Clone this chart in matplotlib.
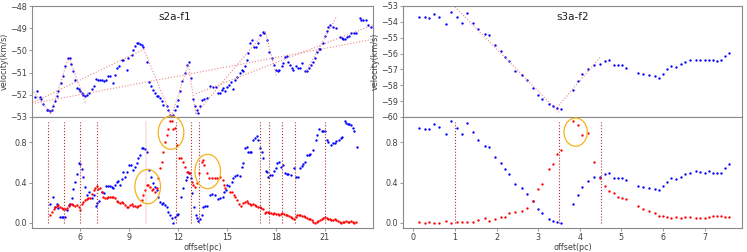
import numpy as np
import matplotlib
matplotlib.use("Agg")
import matplotlib.pyplot as plt
from matplotlib.patches import Ellipse

# ---------------- data: left panel (s2a-f1) ----------------
tl_pts = [(3.24,-52.12),(3.35,-51.85),(3.51,-52.12),(3.61,-52.2),(3.71,-52.4),(3.96,-52.67),(4.06,-52.7),
 (4.16,-52.72),(4.27,-52.7),(4.33,-52.52),(4.43,-52.3),(4.57,-52.07),(4.67,-51.85),(4.84,-51.47),(4.98,-51.14),
 (5.08,-50.72),(5.24,-50.35),(5.35,-50.35),(5.43,-50.6),(5.55,-50.95),(5.69,-51.32),(5.80,-51.7),(5.90,-51.74),
 (6.00,-51.85),(6.10,-51.92),(6.20,-52.0),(6.31,-52.07),(6.45,-52.0),(6.57,-51.9),(6.71,-51.74),(6.86,-51.6),
 (6.98,-51.3),(7.12,-51.32),(7.22,-51.33),(7.31,-51.35),(7.47,-51.4),(7.60,-51.32),(7.73,-51.14),(7.84,-51.14),
 (8.00,-51.47),(8.14,-51.1),(8.29,-50.8),(8.41,-50.72),(8.55,-50.43),(8.65,-50.43),(8.86,-50.88),(8.96,-50.35),
 (9.16,-50.2),(9.27,-50.0),(9.37,-49.8),(9.47,-49.68),(9.57,-49.68),(9.67,-49.72),(9.78,-49.74),(9.88,-49.83),
 (10.08,-50.5),(10.24,-51.44),(10.35,-51.62),(10.49,-51.77),(10.59,-51.92),(10.69,-52.07),(10.80,-52.07),
 (10.90,-52.15),(11.00,-52.3),(11.10,-52.45),(11.30,-52.52),(11.41,-52.67),(11.51,-52.9),(11.61,-52.95),
 (11.71,-52.9),(11.82,-52.67),(11.92,-52.49),(12.02,-52.22),(12.12,-51.85),(12.27,-51.4),(12.43,-51.02),
 (12.57,-50.65),(12.67,-50.5),(12.78,-51.25),(12.94,-52.19),(13.04,-52.49),(13.14,-52.67),(13.24,-52.82),
 (13.35,-52.52),(13.45,-52.22),(13.59,-52.19),(13.76,-52.15),(13.96,-51.62),(14.16,-51.65),(14.33,-51.65),
 (14.47,-51.92),(14.57,-51.92),(14.67,-51.8),(14.78,-51.7),(14.88,-51.85),(14.98,-51.65),(15.14,-51.55),
 (15.24,-51.44),(15.35,-51.74),(15.49,-51.32),(15.63,-51.2),(15.80,-51.02),(15.90,-50.87),(16.00,-50.95),
 (16.10,-50.72),(16.20,-50.43),(16.31,-50.13),(16.41,-49.68),(16.51,-49.53),(16.65,-49.83),(16.78,-49.83),
 (16.92,-49.68),(17.02,-49.3),(17.18,-49.15),(17.29,-49.23),(17.43,-49.53),(17.59,-50.05),(17.73,-50.35),
 (17.88,-50.65),(18.00,-50.87),(18.10,-50.92),(18.20,-50.88),(18.35,-50.72),(18.45,-50.57),(18.55,-50.28),
 (18.65,-50.25),(18.76,-50.5),(18.86,-50.65),(18.96,-50.8),(19.06,-50.87),(19.22,-50.72),(19.37,-50.8),
 (19.47,-50.8),(19.57,-50.57),(19.78,-50.95),(19.88,-50.95),(20.04,-50.8),(20.18,-50.65),(20.29,-50.5),
 (20.39,-50.35),(20.49,-50.05),(20.65,-49.95),(20.73,-49.95),(20.86,-49.65),(21.00,-49.35),(21.10,-49.12),
 (21.20,-48.93),(21.31,-48.85),(21.51,-48.93),(21.71,-49.0),(21.92,-49.38),(22.02,-49.45),(22.12,-49.5),
 (22.22,-49.5),(22.33,-49.41),(22.49,-49.35),(22.63,-49.23),(22.76,-49.23),(22.90,-49.23),(23.14,-48.55),
 (23.24,-48.63),(23.35,-48.65),(23.50,-48.65),(23.65,-48.85),(23.80,-48.93)]

# linear fits drawn in the top-left panel: (x0, v0, x1, v1)
tl_fits = [(3.05,-51.77,4.2,-52.85),(4.2,-52.85,5.3,-50.3),(5.3,-50.3,6.35,-52.4),
 (3.05,-52.37,9.9,-49.95),(3.05,-52.4,23.95,-49.5),(9.9,-49.95,11.6,-52.97),
 (11.6,-52.97,12.63,-50.6),(12.65,-50.7,13.1,-52.9),(13.1,-52.85,17.35,-49.15),
 (13.1,-51.95,23.95,-48.85),(17.35,-49.15,18.05,-51.2),(19.8,-51.0,21.7,-48.5)]

bl_blue = [(4.16,0.183),(4.31,0.259),(4.43,0.159),(4.57,0.183),(4.67,0.15),(4.78,0.06),(4.88,0.055),(4.98,0.055),
 (5.08,0.06),(5.18,0.126),(5.29,0.176),(5.39,0.183),(5.49,0.243),(5.59,0.336),(5.69,0.409),(5.80,0.49),(5.90,0.59),
 (6.00,0.585),(6.10,0.535),(6.20,0.458),(6.31,0.359),(6.45,0.276),(6.57,0.302),(6.71,0.243),(6.82,0.276),(6.98,0.169),
 (7.06,0.193),(7.18,0.216),(7.33,0.309),(7.47,0.292),(7.60,0.369),(7.73,0.365),(7.84,0.365),(7.94,0.36),(8.04,0.342),
 (8.14,0.375),(8.24,0.409),(8.35,0.415),(8.45,0.375),(8.55,0.435),(8.65,0.502),(8.76,0.458),(8.86,0.508),(9.02,0.575),
 (9.10,0.575),(9.22,0.525),(9.37,0.558),(9.47,0.591),(9.57,0.641),(9.67,0.674),(9.78,0.741),(9.88,0.74),(9.98,0.735),
 (10.08,0.708),(10.22,0.525),(10.33,0.458),(10.45,0.392),(10.59,0.359),(10.69,0.326),(10.80,0.259),(10.90,0.209),
 (11.00,0.183),(11.10,0.193),(11.20,0.176),(11.31,0.159),(11.41,0.11),(11.51,0.076),(11.61,0.05),(11.71,0.003),
 (11.82,0.06),(11.92,0.076),(12.02,0.093),(12.18,0.259),(12.33,0.349),(12.47,0.425),(12.57,0.458),(12.67,0.492),
 (12.78,0.442),(12.88,0.30),(12.98,0.16),(13.08,0.08),(13.18,0.05),(13.25,0.02),(13.35,0.043),(13.45,0.076),
 (13.55,0.16),(13.65,0.17),(13.75,0.17),(13.96,0.276),(14.10,0.285),(14.25,0.28),(14.45,0.24),(14.60,0.248),
 (14.73,0.26),(14.80,0.302),(14.96,0.326),(15.02,0.375),(15.14,0.369),(15.29,0.409),(15.39,0.442),(15.49,0.468),
 (15.63,0.475),(15.80,0.468),(15.90,0.558),(15.96,0.591),(16.10,0.741),(16.20,0.757),(16.30,0.708),(16.40,0.708),
 (16.50,0.708),(16.61,0.824),(16.71,0.84),(16.82,0.857),(16.92,0.824),(17.02,0.741),(17.12,0.701),(17.22,0.648),
 (17.37,0.515),(17.43,0.502),(17.53,0.458),(17.63,0.475),(17.73,0.475),(17.88,0.515),(18.00,0.541),(18.08,0.591),
 (18.18,0.601),(18.29,0.558),(18.41,0.575),(18.55,0.492),(18.65,0.482),(18.76,0.482),(18.90,0.475),(19.10,0.548),
 (19.22,0.458),(19.33,0.452),(19.47,0.541),(19.59,0.568),(19.67,0.581),(19.80,0.608),(19.90,0.674),(20.00,0.674),
 (20.10,0.681),(20.29,0.724),(20.45,0.824),(20.53,0.874),(20.65,0.934),(20.80,0.914),(20.90,0.907),(21.00,0.907),
 (21.10,0.824),(21.20,0.807),(21.35,0.774),(21.47,0.79),(21.60,0.79),(21.70,0.814),(21.88,0.824),(21.96,0.84),
 (22.08,0.847),(22.22,1.007),(22.30,0.99),(22.40,0.985),(22.50,0.98),(22.61,0.967),(22.71,0.94),(22.80,0.907),
 (22.96,0.757)]

bl_red = [(4.16,0.076),(4.27,0.11),(4.37,0.143),(4.47,0.159),(4.57,0.169),(4.67,0.176),(4.78,0.159),(4.88,0.15),
 (4.98,0.143),(5.08,0.136),(5.18,0.15),(5.29,0.169),(5.39,0.183),(5.49,0.183),(5.59,0.176),(5.69,0.169),(5.80,0.176),
 (5.90,0.159),(6.00,0.126),(6.10,0.183),(6.20,0.209),(6.31,0.226),(6.41,0.236),(6.51,0.243),(6.61,0.249),(6.71,0.282),
 (6.82,0.326),(6.92,0.349),(7.02,0.369),(7.12,0.336),(7.22,0.349),(7.33,0.302),(7.43,0.259),(7.53,0.243),(7.63,0.249),
 (7.73,0.259),(7.84,0.259),(7.94,0.259),(8.04,0.259),(8.14,0.243),(8.24,0.216),(8.35,0.203),(8.45,0.193),(8.55,0.203),
 (8.65,0.193),(8.76,0.176),(8.86,0.159),(8.96,0.159),(9.06,0.176),(9.16,0.183),(9.27,0.169),(9.37,0.169),(9.47,0.159),
 (9.57,0.169),(9.67,0.176),(9.78,0.226),(9.88,0.276),(9.98,0.326),(10.08,0.375),(10.18,0.375),(10.29,0.359),
 (10.39,0.326),(10.49,0.336),(10.59,0.302),(10.69,0.349),(10.80,0.442),(10.90,0.542),(11.00,0.608),(11.10,0.708),
 (11.20,0.807),(11.31,0.874),(11.41,0.934),(11.51,1.007),(11.61,1.007),(11.71,0.934),(11.82,0.94),(11.92,0.774),
 (12.06,0.641),(12.18,0.641),(12.33,0.608),(12.43,0.558),(12.53,0.508),(12.63,0.502),(12.73,0.492),(12.84,0.409),
 (12.94,0.375),(13.04,0.359),(13.14,0.392),(13.30,0.50),(13.45,0.60),(13.55,0.624),(13.59,0.575),(13.76,0.492),
 (13.92,0.442),(14.10,0.445),(14.25,0.445),(14.40,0.445),(14.57,0.455),(14.73,0.425),(14.82,0.375),(14.90,0.342),
 (15.16,0.302),(15.30,0.302),(15.40,0.276),(15.50,0.259),(15.63,0.226),(15.76,0.183),(15.84,0.169),(16.00,0.193),
 (16.10,0.203),(16.20,0.216),(16.30,0.193),(16.40,0.183),(16.50,0.176),(16.60,0.183),(16.70,0.176),(16.80,0.169),
 (16.90,0.163),(17.00,0.16),(17.10,0.15),(17.20,0.136),(17.30,0.103),(17.40,0.11),(17.50,0.107),(17.60,0.103),
 (17.70,0.097),(17.80,0.093),(17.90,0.1),(18.00,0.093),(18.10,0.093),(18.20,0.083),(18.30,0.09),(18.40,0.1),
 (18.50,0.093),(18.60,0.083),(18.70,0.077),(18.80,0.07),(18.90,0.06),(19.00,0.05),(19.10,0.043),(19.20,0.06),
 (19.30,0.076),(19.40,0.076),(19.50,0.076),(19.60,0.07),(19.70,0.067),(19.80,0.06),(19.90,0.05),(20.00,0.043),
 (20.10,0.037),(20.20,0.027),(20.30,0.01),(20.40,0.003),(20.50,0.01),(20.60,0.017),(20.70,0.027),(20.80,0.037),
 (20.90,0.05),(21.00,0.06),(21.10,0.05),(21.20,0.043),(21.30,0.037),(21.40,0.027),(21.50,0.027),(21.60,0.037),
 (21.70,0.027),(21.80,0.017),(21.90,0.01),(22.00,0.003),(22.10,0.01),(22.20,0.01),(22.30,0.017),(22.40,0.01),
 (22.50,0.01),(22.60,0.017),(22.70,0.01),(22.80,0.003),(22.90,0.01)]

left_vlines = [4.0, 5.04, 6.02, 7.06, 11.86, 12.82, 13.27, 17.02, 17.59, 18.35, 19.18, 21.0]
left_faint_vline = 10.02
left_ellipses = [(11.57, 0.895, 1.57, 0.33), (10.14, 0.36, 1.57, 0.34), (13.82, 0.51, 1.57, 0.34)]
left_top_ticks = [4.16, 6.92, 9.67, 12.43, 15.18, 17.94, 20.7, 23.45]

# ---------------- data: right panel (s3a-f2) ----------------
r_x = [0.14,0.28,0.38,0.50,0.62,0.78,0.90,1.06,1.16,1.30,1.44,1.56,1.72,1.82,1.96,2.10,2.20,2.30,2.44,2.60,
       2.72,2.88,3.00,3.10,3.26,3.36,3.46,3.56,3.84,3.96,4.06,4.20,4.34,4.48,4.60,4.70,4.82,4.92,5.02,5.12,
       5.40,5.52,5.66,5.80,5.90,6.00,6.10,6.20,6.32,6.44,6.54,6.64,6.80,6.90,7.00,7.10,7.20,7.30,7.40,7.48,7.58]
r_vel = [-53.72,-53.72,-53.76,-53.5,-53.68,-54.14,-53.36,-53.72,-54.1,-53.46,-54.05,-54.48,-54.79,-54.86,
         -55.47,-55.83,-56.2,-56.48,-57.09,-57.37,-57.68,-58.15,-58.59,-58.84,-59.2,-59.33,-59.41,-59.48,
         -58.27,-57.73,-57.3,-56.95,-56.69,-56.63,-56.46,-56.42,-56.73,-56.73,-56.73,-56.88,-57.22,-57.3,
         -57.35,-57.41,-57.51,-57.26,-56.99,-56.8,-56.84,-56.63,-56.52,-56.42,-56.38,-56.38,-56.42,-56.38,
         -56.42,-56.46,-56.42,-56.16,-55.95]
r_blue = [0.94,0.933,0.933,0.98,0.947,0.88,1.013,0.94,0.88,0.99,0.9,0.823,0.767,0.753,0.657,0.59,0.533,0.49,
          0.387,0.347,0.287,0.213,0.14,0.1,0.04,0.02,0.013,0.0,0.187,0.28,0.353,0.413,0.453,0.453,0.487,0.497,
          0.447,0.447,0.447,0.43,0.363,0.357,0.347,0.34,0.323,0.363,0.407,0.447,0.433,0.457,0.49,0.5,0.513,
          0.507,0.5,0.513,0.5,0.497,0.497,0.54,0.58]
r_red = [0.013,0.0,0.007,0.0,0.0,0.02,0.0,0.013,0.013,0.007,0.013,0.033,0.047,0.02,0.04,0.063,0.063,0.097,
         0.107,0.12,0.153,0.22,0.34,0.387,0.533,0.587,0.68,0.723,1.007,0.973,0.873,0.89,0.607,0.447,0.367,
         0.32,0.297,0.257,0.25,0.233,0.167,0.14,0.123,0.1,0.073,0.073,0.063,0.05,0.06,0.053,0.057,0.057,0.05,
         0.053,0.053,0.057,0.073,0.067,0.067,0.063,0.063]
r_fits = [(1.0,-53.05,3.5,-59.7),(3.45,-59.4,4.5,-56.2)]
right_vlines = [1.0, 3.5, 4.5]
right_ellipses = [(3.9, 0.9, 0.56, 0.28)]

# ---------------- figure ----------------
plt.rcParams['font.family'] = ['DejaVu Sans']
fig = plt.figure(figsize=(7.47, 2.52), dpi=100)
W, H = 747.0, 252.0
def box(l, r, t, b):
    return [l / W, (H - b) / H, (r - l) / W, (b - t) / H]

ax_tl = fig.add_axes(box(32, 373, 6, 117))
ax_bl = fig.add_axes(box(32, 373, 117, 228))
ax_tr = fig.add_axes(box(403, 742, 6, 117))
ax_br = fig.add_axes(box(403, 742, 117, 228))

spine_c = '#8a8a8a'
tick_c = '#404040'
FS = 5.8
for ax in (ax_tl, ax_bl, ax_tr, ax_br):
    for s in ax.spines.values():
        s.set_color(spine_c)
        s.set_linewidth(0.8)
    ax.tick_params(colors=spine_c, labelcolor=tick_c, labelsize=FS, length=2.2, width=0.6, pad=1.5)

ms = 1.7
fitkw = dict(color='#e86a6a', ls=':', lw=0.8, alpha=0.8)
vkw = dict(color='#b03030', ls=':', lw=0.8)

# top-left
tl = np.array(tl_pts)
ax_tl.plot(tl[:, 0], tl[:, 1], 'o', color='blue', ms=ms, mew=0)
for x0, v0, x1, v1 in tl_fits:
    ax_tl.plot([x0, x1], [v0, v1], **fitkw)
ax_tl.set_xlim(3.05, 23.95)
ax_tl.set_ylim(-53, -48)
ax_tl.set_yticks([-53, -52, -51, -50, -49, -48])
ax_tl.set_yticklabels(['\u221253', '\u221252', '\u221251', '\u221250', '\u221249', '\u221248'])
ax_tl.set_xticks(left_top_ticks)
ax_tl.set_xticklabels([])
ax_tl.set_ylabel('velocity(km/s)', fontsize=FS, color=tick_c, labelpad=0.5)
ax_tl.text(0.42, 0.905, 's2a-f1', transform=ax_tl.transAxes, ha='center', va='center', fontsize=7.5, color='#202020')

# bottom-left
bb = np.array(bl_blue)
br = np.array(bl_red)
ax_bl.plot(bb[:, 0], bb[:, 1], 'o', color='blue', ms=ms, mew=0)
ax_bl.plot(br[:, 0], br[:, 1], 'o', color='red', ms=ms, mew=0)
for xv in left_vlines:
    ax_bl.plot([xv, xv], [0, 1.0], **vkw)
ax_bl.plot([left_faint_vline, left_faint_vline], [0, 1.0], color='#f4a0a0', lw=1.5, alpha=0.25)
for cx, cy, w, h in left_ellipses:
    ax_bl.add_patch(Ellipse((cx, cy), w, h, fill=False, ec='#f5b21a', lw=0.9, clip_on=False, zorder=5))
ax_bl.set_xlim(3.05, 23.95)
ax_bl.set_ylim(-0.05, 1.05)
ax_bl.set_xticks([6, 9, 12, 15, 18, 21])
ax_bl.set_yticks([0.0, 0.4, 0.8])
ax_bl.set_xlabel('offset(pc)', fontsize=FS, color=tick_c, labelpad=0.3)

# top-right
ax_tr.plot(r_x, r_vel, 'o', color='blue', ms=ms, mew=0)
for x0, v0, x1, v1 in r_fits:
    ax_tr.plot([x0, x1], [v0, v1], **fitkw)
ax_tr.set_xlim(-0.25, 7.9)
ax_tr.set_ylim(-60, -53)
ax_tr.set_yticks([-60, -59, -58, -57, -56, -55, -54, -53])
ax_tr.set_yticklabels(['\u221260', '\u221259', '\u221258', '\u221257', '\u221256', '\u221255', '\u221254', '\u221253'])
ax_tr.set_xticks(range(0, 8))
ax_tr.set_xticklabels([])
ax_tr.set_ylabel('velocity(km/s)', fontsize=FS, color=tick_c, labelpad=0.5)
ax_tr.text(0.5, 0.905, 's3a-f2', transform=ax_tr.transAxes, ha='center', va='center', fontsize=7.5, color='#202020')

# bottom-right
ax_br.plot(r_x, r_blue, 'o', color='blue', ms=ms, mew=0)
ax_br.plot(r_x, r_red, 'o', color='red', ms=ms, mew=0)
for xv in right_vlines:
    ax_br.plot([xv, xv], [0, 1.0], **vkw)
for cx, cy, w, h in right_ellipses:
    ax_br.add_patch(Ellipse((cx, cy), w, h, fill=False, ec='#f5b21a', lw=0.9, clip_on=False, zorder=5))
ax_br.set_xlim(-0.25, 7.9)
ax_br.set_ylim(-0.05, 1.05)
ax_br.set_xticks(range(0, 8))
ax_br.set_yticks([0.0, 0.4, 0.8])
ax_br.set_xlabel('offset(pc)', fontsize=FS, color=tick_c, labelpad=0.3)

fig.savefig('out.png', dpi=100)
